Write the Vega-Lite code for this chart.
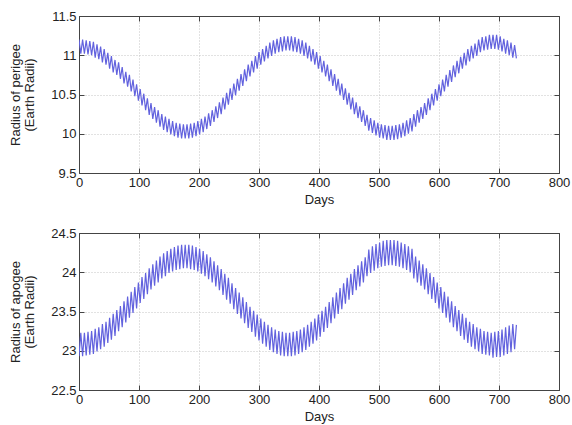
{
 "$schema": "https://vega.github.io/schema/vega-lite/v6.json",
 "padding": {"left": 9, "top": 9, "right": 1, "bottom": 0},
 "background": "white",
 "datasets": {"orbit": [
{"d":0,"p":11.20,"a":22.93},{"d":3,"p":11.02,"a":23.23},{"d":6,"p":11.20,"a":22.93},{"d":9,"p":11.02,"a":23.23},
{"d":12,"p":11.19,"a":22.94},{"d":15,"p":11.01,"a":23.24},{"d":18,"p":11.18,"a":22.95},{"d":21,"p":11.00,"a":23.25},
{"d":24,"p":11.17,"a":22.96},{"d":27,"p":10.97,"a":23.28},{"d":30,"p":11.14,"a":22.99},{"d":33,"p":10.95,"a":23.30},
{"d":36,"p":11.11,"a":23.02},{"d":39,"p":10.91,"a":23.34},{"d":42,"p":11.08,"a":23.05},{"d":45,"p":10.88,"a":23.37},
{"d":48,"p":11.03,"a":23.10},{"d":51,"p":10.83,"a":23.42},{"d":54,"p":10.99,"a":23.14},{"d":57,"p":10.78,"a":23.47},
{"d":60,"p":10.94,"a":23.19},{"d":63,"p":10.75,"a":23.52},{"d":66,"p":10.91,"a":23.25},{"d":69,"p":10.70,"a":23.57},
{"d":72,"p":10.85,"a":23.30},{"d":75,"p":10.64,"a":23.63},{"d":78,"p":10.79,"a":23.36},{"d":81,"p":10.60,"a":23.69},
{"d":84,"p":10.75,"a":23.42},{"d":87,"p":10.54,"a":23.75},{"d":90,"p":10.69,"a":23.48},{"d":93,"p":10.48,"a":23.81},
{"d":96,"p":10.63,"a":23.54},{"d":99,"p":10.42,"a":23.87},{"d":102,"p":10.57,"a":23.61},{"d":105,"p":10.36,"a":23.94},
{"d":108,"p":10.51,"a":23.66},{"d":111,"p":10.30,"a":23.99},{"d":114,"p":10.45,"a":23.72},{"d":117,"p":10.24,"a":24.05},
{"d":120,"p":10.39,"a":23.78},{"d":123,"p":10.19,"a":24.10},{"d":126,"p":10.34,"a":23.83},{"d":129,"p":10.14,"a":24.15},
{"d":132,"p":10.30,"a":23.87},{"d":135,"p":10.09,"a":24.20},{"d":138,"p":10.25,"a":23.92},{"d":141,"p":10.05,"a":24.24},
{"d":144,"p":10.22,"a":23.95},{"d":147,"p":10.02,"a":24.27},{"d":150,"p":10.19,"a":23.99},{"d":153,"p":9.99,"a":24.30},
{"d":156,"p":10.16,"a":24.01},{"d":159,"p":9.97,"a":24.32},{"d":162,"p":10.14,"a":24.03},{"d":165,"p":9.95,"a":24.34},
{"d":168,"p":10.13,"a":24.04},{"d":171,"p":9.94,"a":24.35},{"d":174,"p":10.12,"a":24.05},{"d":177,"p":9.94,"a":24.35},
{"d":180,"p":10.12,"a":24.05},{"d":183,"p":9.94,"a":24.35},{"d":186,"p":10.13,"a":24.04},{"d":189,"p":9.95,"a":24.34},
{"d":192,"p":10.14,"a":24.03},{"d":195,"p":9.97,"a":24.32},{"d":198,"p":10.16,"a":24.01},{"d":201,"p":9.99,"a":24.30},
{"d":204,"p":10.19,"a":23.98},{"d":207,"p":10.02,"a":24.27},{"d":210,"p":10.22,"a":23.95},{"d":213,"p":10.06,"a":24.23},
{"d":216,"p":10.26,"a":23.91},{"d":219,"p":10.10,"a":24.19},{"d":222,"p":10.30,"a":23.87},{"d":225,"p":10.15,"a":24.14},
{"d":228,"p":10.35,"a":23.82},{"d":231,"p":10.20,"a":24.09},{"d":234,"p":10.40,"a":23.77},{"d":237,"p":10.25,"a":24.04},
{"d":240,"p":10.46,"a":23.71},{"d":243,"p":10.31,"a":23.98},{"d":246,"p":10.52,"a":23.65},{"d":249,"p":10.37,"a":23.93},
{"d":252,"p":10.58,"a":23.60},{"d":255,"p":10.43,"a":23.86},{"d":258,"p":10.64,"a":23.53},{"d":261,"p":10.49,"a":23.80},
{"d":264,"p":10.70,"a":23.47},{"d":267,"p":10.55,"a":23.74},{"d":270,"p":10.76,"a":23.41},{"d":273,"p":10.61,"a":23.68},
{"d":276,"p":10.82,"a":23.35},{"d":279,"p":10.67,"a":23.62},{"d":282,"p":10.88,"a":23.29},{"d":285,"p":10.73,"a":23.56},
{"d":288,"p":10.93,"a":23.24},{"d":291,"p":10.78,"a":23.51},{"d":294,"p":10.99,"a":23.18},{"d":297,"p":10.83,"a":23.46},
{"d":300,"p":11.04,"a":23.13},{"d":303,"p":10.88,"a":23.41},{"d":306,"p":11.08,"a":23.09},{"d":309,"p":10.92,"a":23.37},
{"d":312,"p":11.12,"a":23.05},{"d":315,"p":10.96,"a":23.33},{"d":318,"p":11.16,"a":23.01},{"d":321,"p":10.99,"a":23.30},
{"d":324,"p":11.19,"a":22.98},{"d":327,"p":11.02,"a":23.27},{"d":330,"p":11.21,"a":22.96},{"d":333,"p":11.04,"a":23.25},
{"d":336,"p":11.23,"a":22.94},{"d":339,"p":11.05,"a":23.24},{"d":342,"p":11.24,"a":22.93},{"d":345,"p":11.06,"a":23.23},
{"d":348,"p":11.24,"a":22.93},{"d":351,"p":11.06,"a":23.23},{"d":354,"p":11.24,"a":22.93},{"d":357,"p":11.05,"a":23.24},
{"d":360,"p":11.23,"a":22.94},{"d":363,"p":11.04,"a":23.25},{"d":366,"p":11.21,"a":22.96},{"d":369,"p":11.02,"a":23.27},
{"d":372,"p":11.19,"a":22.98},{"d":375,"p":10.99,"a":23.30},{"d":378,"p":11.16,"a":23.01},{"d":381,"p":10.96,"a":23.33},
{"d":384,"p":11.12,"a":23.05},{"d":387,"p":10.92,"a":23.37},{"d":390,"p":11.08,"a":23.09},{"d":393,"p":10.88,"a":23.41},
{"d":396,"p":11.04,"a":23.13},{"d":399,"p":10.83,"a":23.46},{"d":402,"p":10.99,"a":23.18},{"d":405,"p":10.78,"a":23.51},
{"d":408,"p":10.93,"a":23.24},{"d":411,"p":10.73,"a":23.56},{"d":414,"p":10.88,"a":23.29},{"d":417,"p":10.67,"a":23.62},
{"d":420,"p":10.82,"a":23.35},{"d":423,"p":10.61,"a":23.68},{"d":426,"p":10.76,"a":23.41},{"d":429,"p":10.55,"a":23.74},
{"d":432,"p":10.70,"a":23.47},{"d":435,"p":10.49,"a":23.80},{"d":438,"p":10.64,"a":23.53},{"d":441,"p":10.43,"a":23.86},
{"d":444,"p":10.58,"a":23.60},{"d":447,"p":10.37,"a":23.93},{"d":450,"p":10.52,"a":23.65},{"d":453,"p":10.31,"a":23.98},
{"d":456,"p":10.46,"a":23.71},{"d":459,"p":10.25,"a":24.04},{"d":462,"p":10.40,"a":23.77},{"d":465,"p":10.20,"a":24.09},
{"d":468,"p":10.35,"a":23.82},{"d":471,"p":10.15,"a":24.14},{"d":474,"p":10.30,"a":23.87},{"d":477,"p":10.10,"a":24.19},
{"d":480,"p":10.24,"a":23.95},{"d":483,"p":10.04,"a":24.29},{"d":486,"p":10.20,"a":23.99},{"d":489,"p":10.01,"a":24.33},
{"d":492,"p":10.17,"a":24.02},{"d":495,"p":9.98,"a":24.36},{"d":498,"p":10.14,"a":24.05},{"d":501,"p":9.95,"a":24.38},
{"d":504,"p":10.12,"a":24.07},{"d":507,"p":9.94,"a":24.40},{"d":510,"p":10.11,"a":24.08},{"d":513,"p":9.92,"a":24.41},
{"d":516,"p":10.10,"a":24.09},{"d":519,"p":9.92,"a":24.41},{"d":522,"p":10.10,"a":24.09},{"d":525,"p":9.92,"a":24.41},
{"d":528,"p":10.11,"a":24.08},{"d":531,"p":9.93,"a":24.40},{"d":534,"p":10.12,"a":24.07},{"d":537,"p":9.95,"a":24.38},
{"d":540,"p":10.14,"a":24.05},{"d":543,"p":9.97,"a":24.36},{"d":546,"p":10.17,"a":24.03},{"d":549,"p":10.00,"a":24.33},
{"d":552,"p":10.20,"a":24.00},{"d":555,"p":10.03,"a":24.30},{"d":558,"p":10.25,"a":23.92},{"d":561,"p":10.09,"a":24.20},
{"d":564,"p":10.30,"a":23.87},{"d":567,"p":10.14,"a":24.15},{"d":570,"p":10.34,"a":23.83},{"d":573,"p":10.19,"a":24.10},
{"d":576,"p":10.39,"a":23.78},{"d":579,"p":10.24,"a":24.05},{"d":582,"p":10.45,"a":23.72},{"d":585,"p":10.30,"a":23.99},
{"d":588,"p":10.51,"a":23.66},{"d":591,"p":10.36,"a":23.94},{"d":594,"p":10.57,"a":23.61},{"d":597,"p":10.42,"a":23.87},
{"d":600,"p":10.63,"a":23.54},{"d":603,"p":10.48,"a":23.81},{"d":606,"p":10.69,"a":23.48},{"d":609,"p":10.54,"a":23.75},
{"d":612,"p":10.75,"a":23.42},{"d":615,"p":10.60,"a":23.69},{"d":618,"p":10.81,"a":23.36},{"d":621,"p":10.66,"a":23.63},
{"d":624,"p":10.87,"a":23.30},{"d":627,"p":10.72,"a":23.57},{"d":630,"p":10.93,"a":23.25},{"d":633,"p":10.77,"a":23.52},
{"d":636,"p":10.98,"a":23.19},{"d":639,"p":10.83,"a":23.47},{"d":642,"p":11.03,"a":23.14},{"d":645,"p":10.87,"a":23.42},
{"d":648,"p":11.08,"a":23.10},{"d":651,"p":10.92,"a":23.37},{"d":654,"p":11.12,"a":23.05},{"d":657,"p":10.96,"a":23.34},
{"d":660,"p":11.15,"a":23.02},{"d":663,"p":10.99,"a":23.30},{"d":666,"p":11.20,"a":22.99},{"d":669,"p":11.04,"a":23.28},
{"d":672,"p":11.23,"a":22.96},{"d":675,"p":11.06,"a":23.25},{"d":678,"p":11.24,"a":22.95},{"d":681,"p":11.07,"a":23.24},
{"d":684,"p":11.26,"a":22.94},{"d":687,"p":11.08,"a":23.23},{"d":690,"p":11.26,"a":22.91},{"d":693,"p":11.08,"a":23.24},
{"d":696,"p":11.26,"a":22.92},{"d":699,"p":11.07,"a":23.25},{"d":702,"p":11.24,"a":22.92},{"d":705,"p":11.05,"a":23.27},
{"d":708,"p":11.21,"a":22.94},{"d":711,"p":11.02,"a":23.30},{"d":714,"p":11.19,"a":22.96},{"d":717,"p":11.00,"a":23.32},
{"d":720,"p":11.16,"a":22.98},{"d":723,"p":10.97,"a":23.34},{"d":726,"p":11.13,"a":23.02},{"d":729,"p":10.96,"a":23.33}
 ]},
 "config": {
  "font": "Liberation Sans",
  "view": {"stroke": "#444444", "strokeWidth": 1},
  "axis": {
   "labelFont": "Liberation Sans", "labelFontSize": 13, "labelColor": "#222222", "labelFlush": false,
   "titleFont": "Liberation Sans", "titleFontSize": 13, "titleFontWeight": "normal", "titleColor": "#222222",
   "domainColor": "#444444", "tickColor": "#444444", "tickSize": -5, "labelPadding": 8,
   "gridColor": "#c4c4c4", "gridDash": [1, 2], "gridWidth": 1
  }
 },
 "spacing": 19,
 "vconcat": [
  {
   "width": 480, "height": 157,
   "data": {"name": "orbit"},
   "resolve": {"axis": {"x": "independent", "y": "independent"}},
   "layer": [
    {
     "mark": {"type": "line", "color": "#6262de", "strokeWidth": 1.2, "clip": true},
     "encoding": {
      "x": {"field": "d", "type": "quantitative", "scale": {"domain": [0, 800], "nice": false},
       "axis": {"values": [0,100,200,300,400,500,600,700,800], "format": "d", "title": "Days", "titlePadding": 4}},
      "y": {"field": "p", "type": "quantitative", "scale": {"domain": [9.5, 11.5], "nice": false, "zero": false},
       "axis": {"values": [9.5,10,10.5,11,11.5], "format": "~g", "title": ["Radius of perigee", "(Earth Radii)"], "titlePadding": 14, "titleLineHeight": 14}}
     }
    },
    {
     "mark": {"type": "line", "opacity": 0},
     "encoding": {
      "x": {"field": "d", "type": "quantitative",
       "axis": {"orient": "top", "values": [0,100,200,300,400,500,600,700,800], "labels": false, "title": null, "grid": false}},
      "y": {"field": "p", "type": "quantitative",
       "axis": {"orient": "right", "values": [9.5,10,10.5,11,11.5], "labels": false, "title": null, "grid": false}}
     }
    }
   ]
  },
  {
   "width": 480, "height": 157,
   "data": {"name": "orbit"},
   "resolve": {"axis": {"x": "independent", "y": "independent"}},
   "layer": [
    {
     "mark": {"type": "line", "color": "#6262de", "strokeWidth": 1.2, "clip": true},
     "encoding": {
      "x": {"field": "d", "type": "quantitative", "scale": {"domain": [0, 800], "nice": false},
       "axis": {"values": [0,100,200,300,400,500,600,700,800], "format": "d", "title": "Days", "titlePadding": 4}},
      "y": {"field": "a", "type": "quantitative", "scale": {"domain": [22.5, 24.5], "nice": false, "zero": false},
       "axis": {"values": [22.5,23,23.5,24,24.5], "format": "~g", "title": ["Radius of apogee", "(Earth Radii)"], "titlePadding": 14, "titleLineHeight": 14}}
     }
    },
    {
     "mark": {"type": "line", "opacity": 0},
     "encoding": {
      "x": {"field": "d", "type": "quantitative",
       "axis": {"orient": "top", "values": [0,100,200,300,400,500,600,700,800], "labels": false, "title": null, "grid": false}},
      "y": {"field": "a", "type": "quantitative",
       "axis": {"orient": "right", "values": [22.5,23,23.5,24,24.5], "labels": false, "title": null, "grid": false}}
     }
    }
   ]
  }
 ]
}
